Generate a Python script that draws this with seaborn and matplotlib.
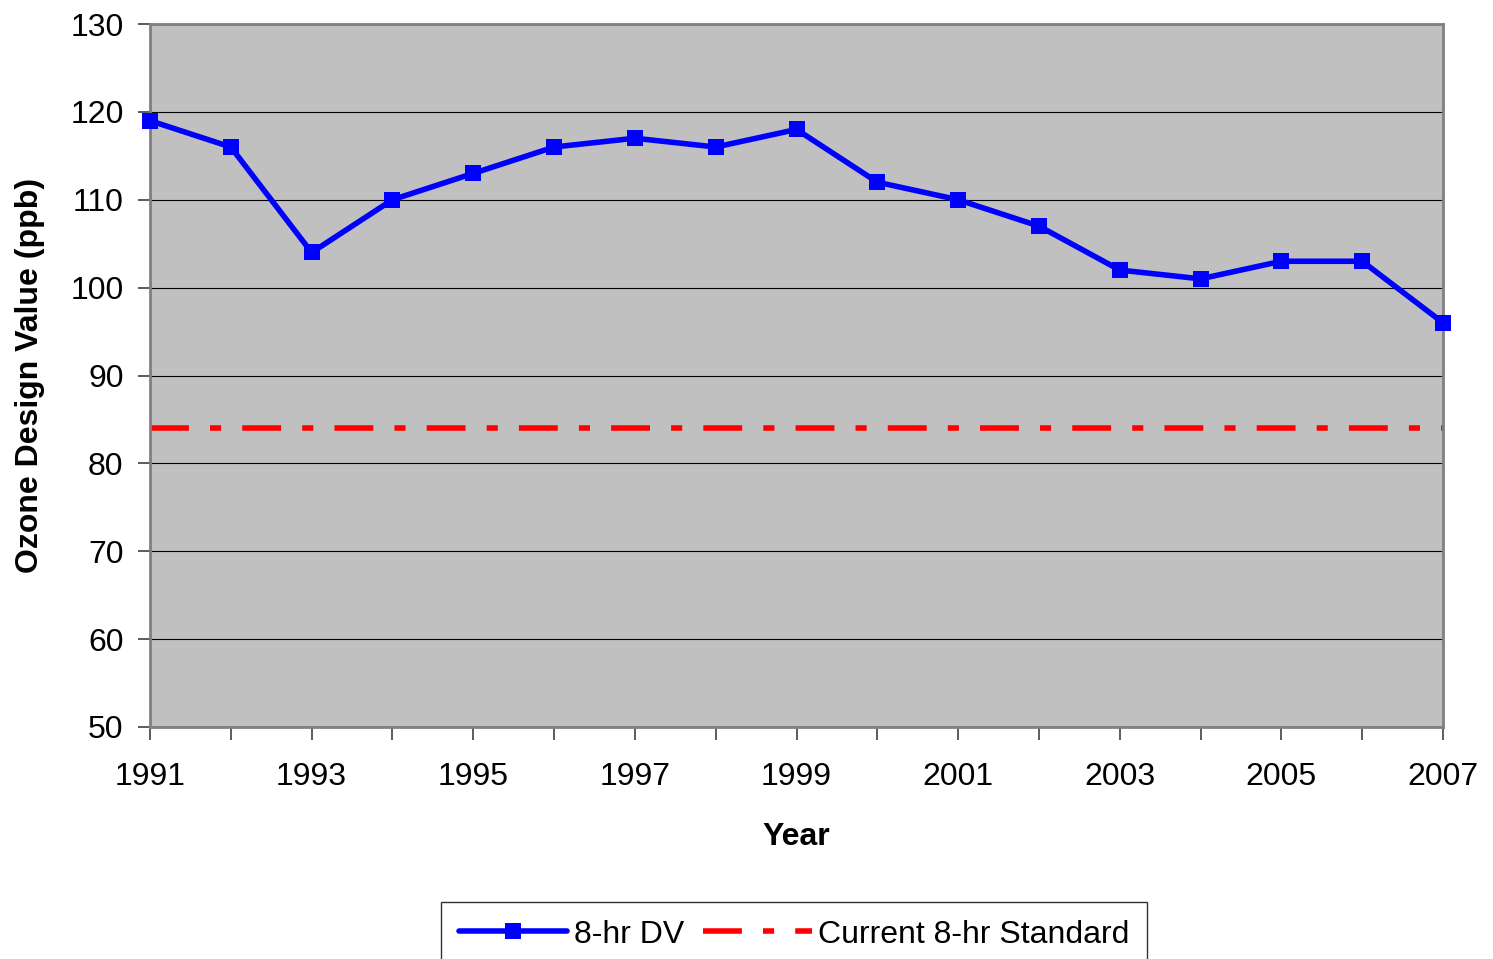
import matplotlib
matplotlib.use("Agg")
import matplotlib.pyplot as plt
import seaborn as sns
import pandas as pd

years = [1991, 1992, 1993, 1994, 1995, 1996, 1997, 1998, 1999, 2000,
         2001, 2002, 2003, 2004, 2005, 2006, 2007]
dv_8hr = [119, 116, 104, 110, 113, 116, 117, 116, 118, 112,
          110, 107, 102, 101, 103, 103, 96]
standard = 84
y_ticks = [50, 60, 70, 80, 90, 100, 110, 120, 130]
x_label_years = [1991, 1993, 1995, 1997, 1999, 2001, 2003, 2005, 2007]

sns.set_style("white")
plt.rcParams['font.family'] = ['Liberation Sans', 'DejaVu Sans']
plt.rcParams['text.color'] = 'black'
plt.rcParams['axes.labelcolor'] = 'black'
plt.rcParams['xtick.labelcolor'] = 'black'
plt.rcParams['ytick.labelcolor'] = 'black'

df = pd.DataFrame({"Year": years, "DV": dv_8hr})

W, H = 1493, 959
fig = plt.figure(figsize=(W / 100, H / 100), dpi=100)
ax = fig.add_axes([150 / W, 1 - 727 / H, (1443 - 150) / W, (727 - 24) / H])
ax.set_facecolor("#c0c0c0")

for v in y_ticks:
    ax.axhline(v, color="black", lw=0.8, zorder=1)

ax.axhline(standard, color="#ff0000", lw=4.0, zorder=2,
           dashes=(7.0, 3.8, 2.0, 3.8), dash_capstyle="butt",
           label="Current 8-hr Standard")

sns.lineplot(data=df, x="Year", y="DV", ax=ax, color="#0000ff", lw=4.0,
             marker="s", markersize=12, markeredgewidth=0,
             label="8-hr DV", zorder=3, clip_on=False)
if ax.get_legend() is not None:
    ax.get_legend().remove()

ax.set_xlim(years[0], years[-1])
ax.set_ylim(y_ticks[0], y_ticks[-1])
ax.set_yticks(y_ticks)
ax.set_xticks(years)
ax.set_xticklabels([str(y) if y in x_label_years else "" for y in years])
ax.tick_params(axis="both", labelsize=23, length=9, width=1.2,
               color="#404040", labelcolor="black", direction="out", pad=10)
ax.tick_params(axis="x", pad=16)
ax.tick_params(left=True, bottom=True)

for s in ax.spines.values():
    s.set_color("#808080")
    s.set_linewidth(2)

ax.set_xlabel("Year", fontsize=23, fontweight="bold", labelpad=22, color="black")
ax.set_ylabel("Ozone Design Value (ppb)", fontsize=23, fontweight="bold",
              labelpad=18, color="black")

handles, labels = ax.get_legend_handles_labels()
order = [labels.index("8-hr DV"), labels.index("Current 8-hr Standard")]
leg = fig.legend([handles[i] for i in order], [labels[i] for i in order],
                 loc="upper center", bbox_to_anchor=(794 / W, 1 - 902 / H),
                 ncol=2, fontsize=23, frameon=True, fancybox=False,
                 edgecolor="black", handlelength=3.4, columnspacing=0.6,
                 handletextpad=0.2, borderpad=0.55, borderaxespad=0)
leg.get_frame().set_linewidth(1.0)
for t in leg.get_texts():
    t.set_color("black")

fig.savefig("out.png", dpi=100)
